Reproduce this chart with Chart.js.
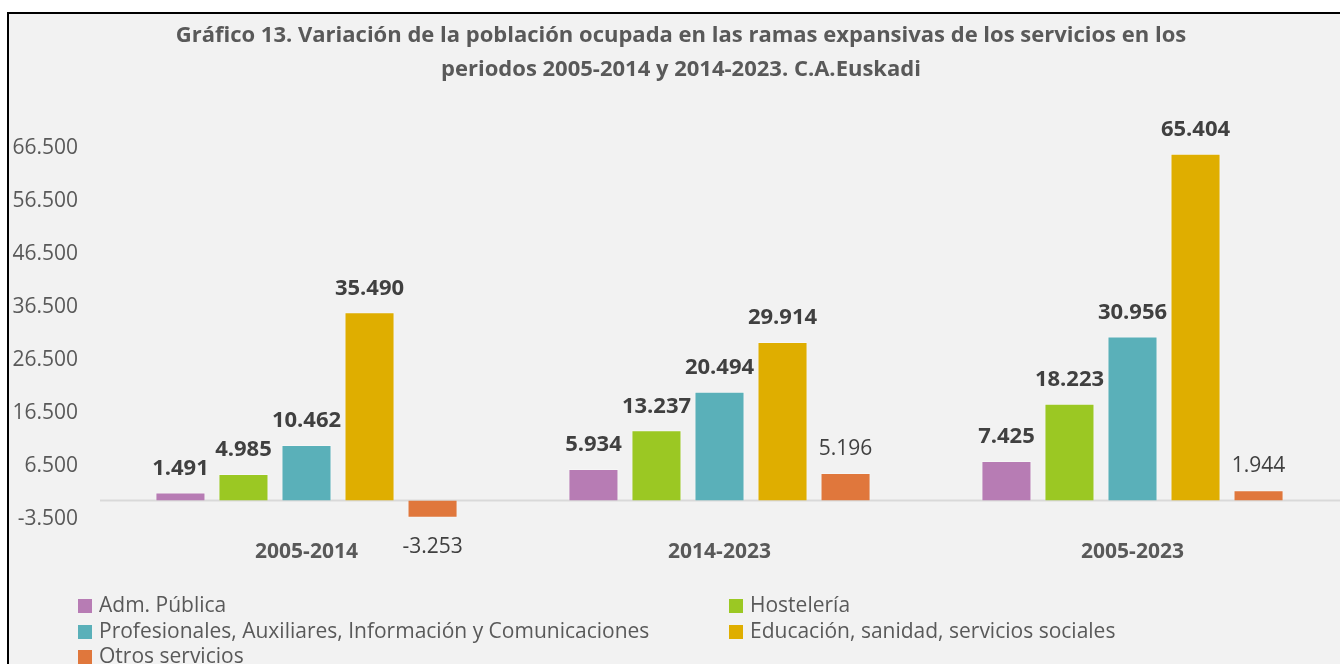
<!DOCTYPE html>
<html lang="es">
<head>
<meta charset="utf-8">
<title>Gráfico 13</title>
<script src="https://cdn.jsdelivr.net/npm/chart.js@4.4.1/dist/chart.umd.min.js"></script>
<style>
    html, body {
        margin: 0;
        padding: 0;
        background: #ffffff;
        overflow: hidden;
    }
    #frame {
        position: absolute;
        left: 7px;
        top: 12px;
        width: 1340px;
        height: 660px;
        border: 2px solid #000000;
        background: #f2f2f2;
    }
    #chart {
        position: absolute;
        left: 0;
        top: 0;
    }
    #legend {
        position: absolute;
        left: 0;
        top: 0;
        font-family: "Open Sans", sans-serif;
        font-size: 21px;
        color: #595959;
    }
    .legend-item {
        position: absolute;
        white-space: nowrap;
        line-height: 26px;
        height: 26px;
    }
    .legend-box {
        display: inline-block;
        width: 14px;
        height: 14px;
        margin-right: 7px;
        vertical-align: -1px;
    }
</style>
</head>
<body>
<div id="frame">
    <canvas id="chart" width="1340" height="650"></canvas>
    <div id="legend"></div>
</div>
<script>
// Chart data
const categories = ['2005-2014', '2014-2023', '2005-2023'];
const seriesNames = [
    'Adm. Pública',
    'Hostelería',
    'Profesionales, Auxiliares, Información y Comunicaciones',
    'Educación, sanidad, servicios sociales',
    'Otros servicios'
];
const admPublica = [1491, 5934, 7425];
const hosteleria = [4985, 13237, 18223];
const profesionales = [10462, 20494, 30956];
const educacion = [35490, 29914, 65404];
const otrosServicios = [-3253, 5196, 1944];
const yMin = -3500;
const yMax = 66500;
const yStep = 10000;

const titleLines = [
    'Gráfico 13. Variación de la población ocupada en las ramas expansivas de los servicios en los',
    'periodos 2005-2014 y 2014-2023. C.A.Euskadi'
];

const seriesColors = ['#b77cb4', '#9bc823', '#5ab0b9', '#dfae00', '#e0773c'];
const boldLabels = [true, true, true, true, false];

/**
 * Format a number with dots as thousands separator
 * @param {number} value Number to format
 * @returns {string} Formatted number
 */
function formatNumber(value) {
    const digits = Math.abs(value).toString().replace(/\B(?=(\d{3})+(?!\d))/g, '.');
    return (value < 0 ? '-' : '') + digits;
}

// Draws title, zero line and value labels
const decorationsPlugin = {
    id: 'decorations',
    beforeDatasetsDraw(chart) {
        const { ctx, chartArea, scales } = chart;
        const y0 = scales.y.getPixelForValue(0);
        ctx.save();
        ctx.strokeStyle = '#d9d9d9';
        ctx.lineWidth = 2;
        ctx.beginPath();
        ctx.moveTo(chartArea.left, y0);
        ctx.lineTo(chartArea.right + 20, y0);
        ctx.stroke();
        ctx.restore();
    },
    afterDatasetsDraw(chart) {
        const { ctx } = chart;
        ctx.save();
        ctx.textAlign = 'center';
        ctx.textBaseline = 'middle';

        // Title
        ctx.fillStyle = '#595959';
        ctx.font = 'bold 22px "Open Sans", sans-serif';
        ctx.fillText(titleLines[0], 672, 22);
        ctx.fillText(titleLines[1], 672, 56);

        // Value labels
        ctx.fillStyle = '#404040';
        chart.data.datasets.forEach((dataset, i) => {
            const meta = chart.getDatasetMeta(i);
            ctx.font = (boldLabels[i] ? 'bold 22px' : '21px') + ' "Open Sans", sans-serif';
            meta.data.forEach((bar, j) => {
                const value = dataset.data[j];
                const y = value >= 0 ? bar.y - 24 : bar.y + 29;
                ctx.fillText(formatNumber(value), bar.x, y);
            });
        });
        ctx.restore();
    }
};

/**
 * Build the HTML legend in two columns
 * @param {string} containerId ID of the legend container
 */
function buildLegend(containerId) {
    const container = document.getElementById(containerId);
    const columns = [69, 720];
    const rows = [577, 603, 628];
    seriesNames.forEach((name, i) => {
        const item = document.createElement('div');
        item.className = 'legend-item';
        item.style.left = columns[i % 2] + 'px';
        item.style.top = rows[Math.floor(i / 2)] + 'px';
        const box = document.createElement('span');
        box.className = 'legend-box';
        box.style.background = seriesColors[i];
        item.appendChild(box);
        item.appendChild(document.createTextNode(name));
        container.appendChild(item);
    });
}

const seriesValues = [admPublica, hosteleria, profesionales, educacion, otrosServicios];

new Chart(document.getElementById('chart').getContext('2d'), {
    type: 'bar',
    data: {
        labels: categories,
        datasets: seriesValues.map((values, i) => ({
            label: seriesNames[i],
            data: values,
            backgroundColor: seriesColors[i],
            borderColor: 'rgba(255, 255, 255, 0.35)',
            borderWidth: 1,
            categoryPercentage: 0.763,
            barPercentage: 0.794
        }))
    },
    options: {
        responsive: false,
        animation: false,
        devicePixelRatio: 1,
        layout: {
            padding: { top: 134, right: 10, bottom: 95, left: 0 }
        },
        plugins: {
            legend: { display: false },
            title: { display: false },
            tooltip: { enabled: false }
        },
        scales: {
            x: {
                grid: { display: false, drawTicks: false },
                border: { display: false },
                ticks: {
                    padding: 20,
                    color: '#595959',
                    font: { family: 'Open Sans', size: 21, weight: 'bold' }
                },
                afterFit(scale) {
                    scale.height = 50;
                }
            },
            y: {
                min: yMin,
                max: yMax,
                grid: { display: false, drawTicks: false },
                border: { display: false },
                ticks: {
                    stepSize: yStep,
                    padding: 22,
                    color: '#595959',
                    font: { family: 'Open Sans', size: 21 },
                    callback: value => formatNumber(value)
                },
                afterFit(scale) {
                    scale.width = 91;
                }
            }
        }
    },
    plugins: [decorationsPlugin]
});

buildLegend('legend');
</script>
</body>
</html>
